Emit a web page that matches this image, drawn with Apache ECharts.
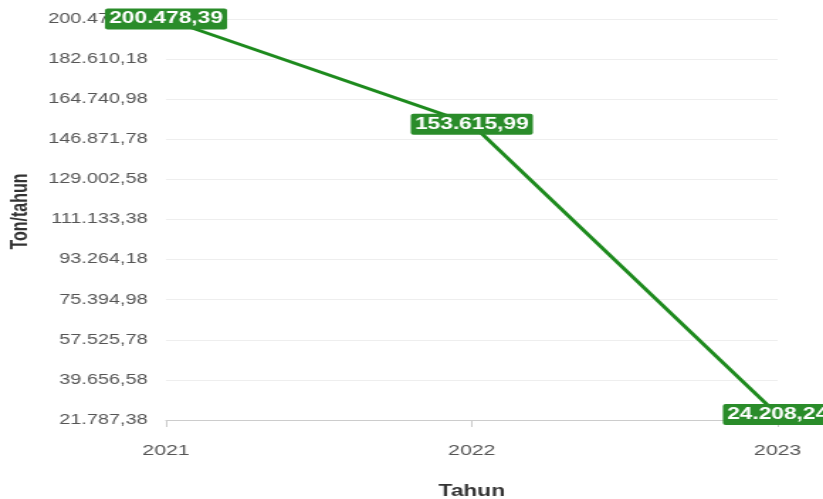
<!DOCTYPE html>
<html>
<head>
<meta charset="utf-8">
<script src="https://cdn.jsdelivr.net/npm/echarts@6/dist/echarts.min.js"></script>
<style>
html,body{margin:0;padding:0;background:#fff;overflow:hidden;width:823px;height:499px;}
#c{width:580px;height:499px;transform:scaleX(1.419);transform-origin:0 0;}
</style>
</head>
<body>
<div id="c"></div>
<script>
const categories = ['2021', '2022', '2023'];
const values = [200478.39, 153615.99, 24208.24];
const yTicks = [21787.38, 39656.58, 57525.78, 75394.98, 93264.18, 111133.38, 129002.58, 146871.78, 164740.98, 182610.18, 200479.38];

function fmt(v) {
  const parts = v.toFixed(2).split('.');
  const intPart = parts[0].replace(/\B(?=(\d{3})+(?!\d))/g, '.');
  return intPart + ',' + parts[1];
}

const chart = echarts.init(document.getElementById('c'));
chart.setOption({
  animation: false,
  textStyle: { fontFamily: 'Liberation Sans, Arial, sans-serif' },
  grid: { left: 117, right: 32, top: 19, bottom: 79, containLabel: false, outerBoundsMode: 'none' },
  xAxis: {
    type: 'category',
    data: categories,
    boundaryGap: false,
    name: 'Tahun',
    nameLocation: 'middle',
    nameGap: 64,
    nameTextStyle: { fontWeight: 'bold', fontSize: 16, color: '#333' },
    axisLine: { lineStyle: { color: '#ccc' } },
    axisTick: { show: true, length: 7, lineStyle: { color: '#ccc' } },
    axisLabel: { color: '#555', fontSize: 15, margin: 23 },
    splitLine: { show: false }
  },
  yAxis: {
    type: 'value',
    min: yTicks[0],
    max: yTicks[yTicks.length - 1],
    name: 'Ton/tahun',
    nameLocation: 'middle',
    nameGap: 91,
    nameRotate: 90,
    nameTextStyle: { fontWeight: 'bold', fontSize: 16, color: '#333', padding: [0, 0, 0, 16] },
    axisLine: { show: false },
    axisTick: { show: false, customValues: yTicks },
    axisLabel: { customValues: yTicks, color: '#555', fontSize: 14, margin: 13, formatter: (v) => fmt(v) },
    splitLine: { show: true, lineStyle: { color: '#eeeeee' } }
  },
  series: [{
    type: 'line',
    data: values,
    symbol: 'circle',
    symbolSize: 4,
    showSymbol: true,
    lineStyle: { color: '#1d8a1d', width: 3 },
    itemStyle: { color: '#1d8a1d' },
    label: {
      show: true,
      position: 'inside',
      formatter: (p) => fmt(p.value),
      color: '#fff',
      fontWeight: 'bold',
      fontSize: 16,
      backgroundColor: '#2a8c2a',
      padding: [3, 3, 2, 3],
      borderRadius: 2
    },
    labelLayout: { hideOverlap: false }
  }]
});
</script>
</body>
</html>
